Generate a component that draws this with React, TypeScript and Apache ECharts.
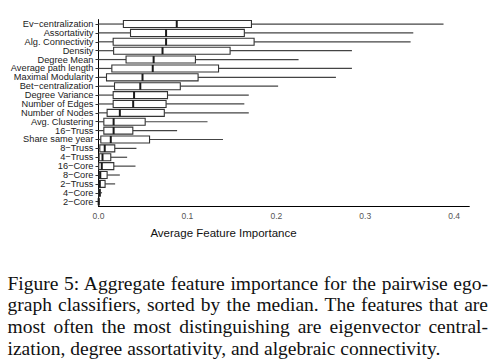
import React, { useEffect, useRef } from "react";
import * as echarts from "echarts";

const categories = [
  "Ev\u2212centralization",
  "Assortativity",
  "Alg. Connectivity",
  "Density",
  "Degree Mean",
  "Average path length",
  "Maximal Modularity",
  "Bet\u2212centralization",
  "Degree Variance",
  "Number of Edges",
  "Number of Nodes",
  "Avg. Clustering",
  "16\u2212Truss",
  "Share same year",
  "8\u2212Truss",
  "4\u2212Truss",
  "16\u2212Core",
  "8\u2212Core",
  "2\u2212Truss",
  "4\u2212Core",
  "2\u2212Core",
];

const whiskerLow = [0, 0, 0, 0, 0, 0, 0, 0, 0, 0, 0, 0, 0, 0, 0, 0, 0, 0, 0, 0, 0];
const quartile1 = [0.028, 0.036, 0.0165, 0.017, 0.031, 0.015, 0.009, 0.018, 0.0165, 0.0165, 0.0097, 0.006, 0.006, 0.0026, 0.0015, 0.0007, 0.0003, 0.0007, 0.0007, 0.0003, 0];
const medians = [0.088, 0.076, 0.076, 0.072, 0.062, 0.061, 0.0495, 0.047, 0.04, 0.039, 0.024, 0.017, 0.017, 0.0138, 0.007, 0.0045, 0.0037, 0.002, 0.0015, 0.001, 0.0002];
const quartile3 = [0.172, 0.164, 0.175, 0.148, 0.109, 0.135, 0.112, 0.092, 0.0776, 0.076, 0.074, 0.0525, 0.0386, 0.0574, 0.0183, 0.0138, 0.0172, 0.0097, 0.0074, 0.002, 0.0005];
const whiskerHigh = [0.388, 0.354, 0.351, 0.285, 0.225, 0.285, 0.267, 0.202, 0.169, 0.164, 0.169, 0.1226, 0.0884, 0.14, 0.0427, 0.0322, 0.0416, 0.024, 0.0187, 0.004, 0.001];

const xTicks = [0, 0.1, 0.2, 0.3, 0.4];

const captionLines = [
  "Figure 5: Aggregate feature importance for the pairwise ego-",
  "graph classifiers, sorted by the median. The features that are",
  "most often the most distinguishing are eigenvector central-",
  "ization, degree assortativity, and algebraic connectivity.",
];

export default function App() {
  const ref = useRef<HTMLDivElement>(null);

  useEffect(() => {
    if (!ref.current) return;
    const chart = echarts.init(ref.current, undefined, { renderer: "svg" });
    const data = categories.map((_, i) => [
      i,
      whiskerLow[i],
      quartile1[i],
      medians[i],
      quartile3[i],
      whiskerHigh[i],
    ]);
    chart.setOption({
      animation: false,
      grid: { left: 98.5, right: 22.7, top: 19.6, bottom: 155.9, containLabel: false },
      xAxis: {
        type: "value",
        min: 0,
        max: 0.417,
        interval: 0.1,
        axisLine: { show: true, lineStyle: { color: "#000", width: 1 } },
        axisTick: { show: false },
        splitLine: { show: false },
        axisLabel: {
          showMaxLabel: false,
          fontFamily: "Liberation Sans",
          fontSize: 8.5,
          color: "#555",
          margin: 5,
          formatter: (v: number) => (xTicks.some((t) => Math.abs(t - v) < 1e-9) ? v.toFixed(1) : ""),
        },
      },
      yAxis: {
        type: "category",
        data: categories,
        inverse: true,
        axisLine: { show: true, lineStyle: { color: "#000", width: 1 } },
        axisTick: { show: true, length: 3, alignWithLabel: true, interval: 0, lineStyle: { color: "#333" } },
        axisLabel: {
          interval: 0,
          fontFamily: "Liberation Sans",
          fontSize: 9.25,
          color: "#222",
          margin: 5,
        },
        splitLine: { show: false },
      },
      graphic: [
        {
          type: "text",
          x: 223.5,
          y: 232.7,
          style: {
            text: "Average Feature Importance",
            fontFamily: "Liberation Sans",
            fontSize: 11.5,
            fill: "#111",
            align: "center",
            verticalAlign: "middle",
          },
        },
      ],
      series: [
        {
          type: "custom",
          encode: { x: [1, 2, 3, 4, 5], y: 0 },
          data,
          renderItem: (params: any, api: any) => {
            const cat = api.value(0);
            const pMin = api.coord([api.value(1), cat]);
            const pQ1 = api.coord([api.value(2), cat]);
            const pMed = api.coord([api.value(3), cat]);
            const pQ3 = api.coord([api.value(4), cat]);
            const pMax = api.coord([api.value(5), cat]);
            const bh = api.size([0, 1])[1] * 0.79;
            const y = pMin[1];
            return {
              type: "group",
              children: [
                {
                  type: "line",
                  shape: { x1: pMin[0], y1: y, x2: pQ1[0], y2: y },
                  style: { stroke: "#444", lineWidth: 1.2 },
                },
                {
                  type: "line",
                  shape: { x1: pQ3[0], y1: y, x2: pMax[0], y2: y },
                  style: { stroke: "#444", lineWidth: 1.2 },
                },
                {
                  type: "rect",
                  shape: { x: pQ1[0], y: y - bh / 2, width: Math.max(pQ3[0] - pQ1[0], 0.5), height: bh },
                  style: { fill: "#fff", stroke: "#333", lineWidth: 1.1 },
                },
                {
                  type: "line",
                  shape: { x1: pMed[0], y1: y - bh / 2, x2: pMed[0], y2: y + bh / 2 },
                  style: { stroke: "#1a1a1a", lineWidth: 2 },
                },
              ],
            };
          },
        },
      ],
    });
    return () => chart.dispose();
  }, []);

  return (
    <div style={{ position: "absolute", left: 0, top: 0, width: 492, height: 362, background: "#fff" }}>
      <div ref={ref} style={{ position: "absolute", left: 0, top: 0, width: 492, height: 362 }} />
      <div
        style={{
          position: "absolute",
          left: 7.5,
          top: 272.5,
          width: 480.5,
          fontFamily: "'Liberation Serif', 'Times New Roman', serif",
          fontSize: 19.5,
          lineHeight: "21.8px",
          color: "#111",
        }}
      >
        {captionLines.map((line, i) => (
          <div
            key={i}
            style={{
              textAlign: i < captionLines.length - 1 ? "justify" : "left",
              textAlignLast: i < captionLines.length - 1 ? "justify" : "left",
            }}
          >
            {line}
          </div>
        ))}
      </div>
    </div>
  );
}
